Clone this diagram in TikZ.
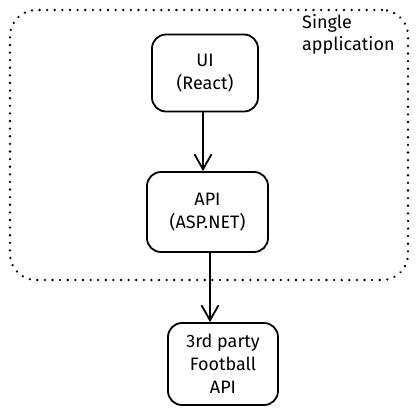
\documentclass[tikz,border=0pt]{standalone}
\usepackage{fontspec}
\setmainfont{Fira Sans}
\usetikzlibrary{arrows.meta}
\begin{document}
\begin{tikzpicture}[x=1pt,y=-1pt,
  box/.style={draw, line width=1.8pt, rounded corners=14pt, align=center, inner sep=0pt, font=\fontsize{18}{23}\selectfont},
  container/.style={draw, line width=2.6pt, line cap=round, dash pattern=on 0.01pt off 7.6pt, rounded corners=26pt, inner sep=0pt},
  link/.style={line width=2pt, -{Straight Barb[length=15pt,width=17pt,line width=1.8pt]}},
  lbl/.style={align=left, anchor=north west, inner sep=0pt, font=\fontsize{18}{22}\selectfont}]
\useasboundingbox (0,0) rectangle (417,418);
\node[container, minimum width=398pt, minimum height=270pt] (app) at (209,145) {};
\node[lbl] (applbl) at (302,14) {Single\\application};
\node[box, minimum width=106pt, minimum height=77pt] (ui) at (205,73) {UI\\(React)};
\node[box, minimum width=121pt, minimum height=80pt] (api) at (207.5,212) {API\\(ASP.NET)};
\node[box, minimum width=110pt, minimum height=82pt] (fb) at (223,364) {3rd party\\Football\\API};
\draw[link] ([xshift=-2pt]ui.south) -- ([xshift=-2pt]ui.south |- api.north);
\draw[link] ([xshift=2.5pt]api.south) -- ([xshift=2.5pt]api.south |- fb.north);
\end{tikzpicture}
\end{document}
